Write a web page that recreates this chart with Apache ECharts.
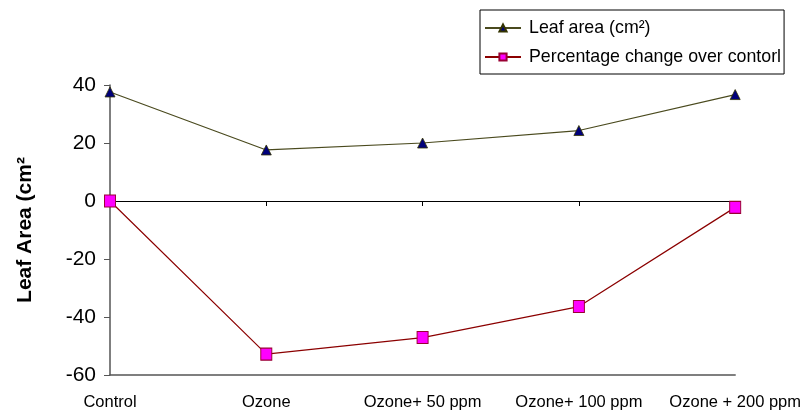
<!DOCTYPE html>
<html><head><meta charset="utf-8">
<script src="https://cdn.jsdelivr.net/npm/echarts@6/dist/echarts.min.js"></script>
<style>html,body{margin:0;padding:0;background:#fff}#c{width:804px;height:411px}</style>
</head><body><div id="c"></div>
<script>
var categories = ['Control', 'Ozone', 'Ozone+ 50 ppm', 'Ozone+ 100 ppm', 'Ozone + 200 ppm'];
var leafArea = [37.6, 17.6, 20.0, 24.3, 36.7];
var pctChange = [0, -52.8, -47.1, -36.4, -2.2];
var yTicks = {min: -60, max: 40, interval: 20};
var FONT = '"Liberation Sans", Arial, sans-serif';

var chart = echarts.init(document.getElementById('c'));
chart.setOption({
  animation: false,
  backgroundColor: '#fff',
  grid: {left: 110, right: 68, top: 85, bottom: 34, containLabel: false},
  legend: {
    orient: 'vertical', left: 480, top: 10,
    padding: [9, 3, 8, 4],
    borderColor: '#000', borderWidth: 1,
    itemWidth: 36, itemHeight: 9, itemGap: 11,
    textStyle: {fontFamily: FONT, fontSize: 17.8, color: '#000', padding: [0, 0, 0, 3]},
    data: ['Leaf area (cm²)', 'Percentage change over contorl']
  },
  xAxis: [{
    type: 'category', data: categories, boundaryGap: false,
    axisLine: {onZero: true, lineStyle: {color: '#000', width: 1}},
    axisTick: {show: true, length: 5, lineStyle: {color: '#000'}},
    axisLabel: {show: false}
  }, {
    type: 'category', data: categories, boundaryGap: false, position: 'bottom',
    axisLine: {onZero: false, lineStyle: {color: '#555', width: 1.5}},
    axisTick: {show: false},
    axisLabel: {show: true, margin: 19, fontFamily: FONT, fontSize: 16.5, color: '#000',
      interval: 0}
  }],
  yAxis: {
    type: 'value', min: yTicks.min, max: yTicks.max, interval: yTicks.interval,
    name: 'Leaf Area (cm²', nameLocation: 'middle', nameGap: 74,
    nameTextStyle: {fontFamily: FONT, fontSize: 21, fontWeight: 'bold', color: '#000'},
    axisLine: {show: true, onZero: false, lineStyle: {color: '#555', width: 1.5}},
    axisTick: {show: true, length: 6, lineStyle: {color: '#555'}},
    axisLabel: {fontFamily: FONT, fontSize: 21, color: '#000', margin: 14},
    splitLine: {show: false}
  },
  series: [{
    name: 'Leaf area (cm²)', type: 'line', xAxisIndex: 0, data: leafArea,
    symbol: 'triangle', symbolSize: 10,
    lineStyle: {color: '#4a4a1e', width: 1.2},
    itemStyle: {color: '#00007a', borderColor: '#333300', borderWidth: 0.8}
  }, {
    name: 'Percentage change over contorl', type: 'line', xAxisIndex: 0, data: pctChange,
    symbol: 'rect', symbolSize: [11, 12],
    lineStyle: {color: '#8b0000', width: 1.2},
    itemStyle: {color: '#ff00ff', borderColor: '#990033', borderWidth: 1}
  }]
});
</script></body></html>
